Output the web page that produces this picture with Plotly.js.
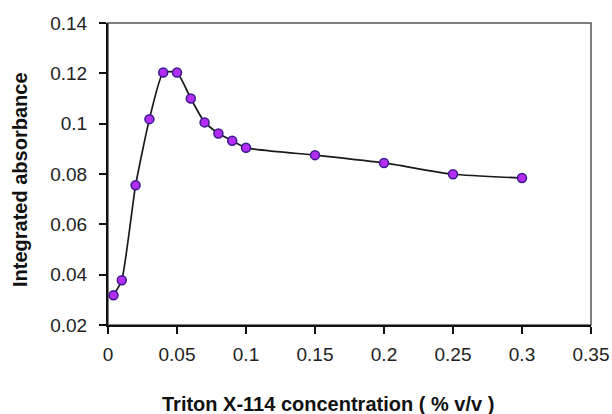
<!DOCTYPE html>
<html>
<head>
<meta charset="utf-8">
<script src="https://cdn.plot.ly/plotly-3.0.1.min.js"></script>
<style>html,body{margin:0;padding:0;background:#fff;}#chart{width:612px;height:414px;}</style>
</head>
<body>
<div id="chart"></div>
<script>
const concentration = [0.004, 0.01, 0.02, 0.03, 0.04, 0.05, 0.06, 0.07, 0.08, 0.09, 0.1, 0.15, 0.2, 0.25, 0.3];
const absorbance = [0.0318, 0.0378, 0.0755, 0.1018, 0.1203, 0.1203, 0.110, 0.1005, 0.0961, 0.0932, 0.0904, 0.0875, 0.0844, 0.0799, 0.0784];
const xTicks = [0, 0.05, 0.1, 0.15, 0.2, 0.25, 0.3, 0.35];
const xTickText = ["0", "0.05", "0.1", "0.15", "0.2", "0.25", "0.3", "0.35"];
const yTicks = [0.02, 0.04, 0.06, 0.08, 0.1, 0.12, 0.14];
const yTickText = ["0.02", "0.04", "0.06", "0.08", "0.1", "0.12", "0.14"];
const xTitle = 'Triton X-114 concentration ( % v/v )';
const yTitle = 'Integrated absorbance';

const titleFont = {size: 20, color: '#111', family: 'Liberation Sans, Arial, sans-serif', weight: 'bold'};
const trace = {
  x: concentration, y: absorbance, type: 'scatter', mode: 'lines+markers',
  line: {color: '#1a1a1a', width: 1.7, shape: 'spline', smoothing: 0.5},
  marker: {symbol: 'circle', size: 9, color: '#b22cf2', line: {color: '#3b1b8c', width: 1.5}},
  showlegend: false, cliponaxis: false
};
const layout = {
  width: 612, height: 414,
  margin: {l: 108, r: 21, t: 23, b: 89},
  paper_bgcolor: '#ffffff', plot_bgcolor: '#ffffff',
  font: {family: 'Liberation Sans, Arial, sans-serif', color: '#222'},
  xaxis: {
    range: [0, 0.35], tickvals: xTicks, ticktext: xTickText,
    showgrid: false, zeroline: false, showline: true, linecolor: '#111', linewidth: 2,
    ticks: 'outside', ticklen: 7, tickwidth: 2, tickcolor: '#111',
    tickfont: {size: 19, color: '#222'}, ticklabelstandoff: 4,
    automargin: false
  },
  yaxis: {
    range: [0.02, 0.14], tickvals: yTicks, ticktext: yTickText,
    showgrid: false, zeroline: false, showline: true, linecolor: '#111', linewidth: 2,
    ticks: 'outside', ticklen: 7, tickwidth: 2, tickcolor: '#111',
    tickfont: {size: 19, color: '#222'}, ticklabelstandoff: 8,
    automargin: false
  },
  annotations: [
    {text: xTitle, xref: 'paper', yref: 'paper', x: (328 - 108) / 483, y: -(404 - 325) / 302, xanchor: 'center', yanchor: 'middle', showarrow: false, font: titleFont},
    {text: yTitle, xref: 'paper', yref: 'paper', x: -(108 - 20) / 483, y: (325 - 180) / 302, xanchor: 'center', yanchor: 'middle', textangle: -90, showarrow: false, font: titleFont}
  ],
  shapes: [{type: 'rect', xref: 'paper', yref: 'paper', x0: 0, x1: 1, y0: 0, y1: 1, line: {color: '#555', width: 1.5}, layer: 'below'}]
};
Plotly.newPlot('chart', [trace], layout, {staticPlot: true, displayModeBar: false});
</script>
</body>
</html>
